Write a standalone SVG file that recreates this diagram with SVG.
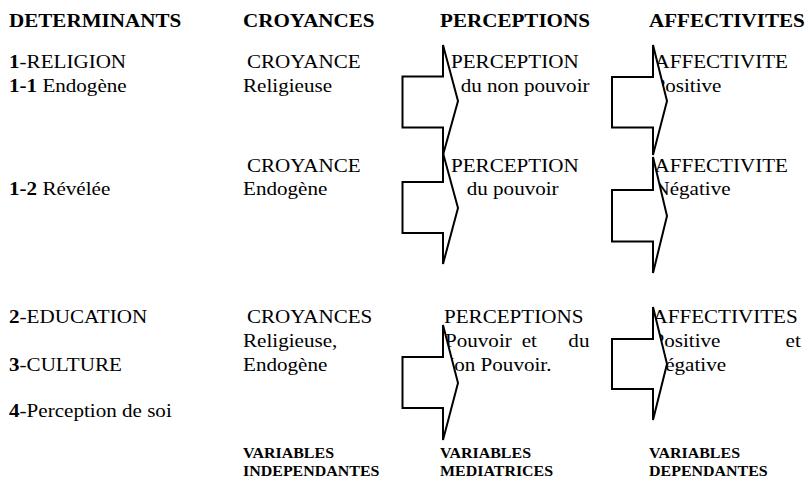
<svg xmlns="http://www.w3.org/2000/svg" width="809" height="479" viewBox="0 0 809 479">
<style>
text{font-family:"Liberation Serif","Times New Roman",serif;font-size:18.5px;fill:#000}
.b{font-weight:bold}
.s{font-size:14px;font-weight:bold}
.arrow{fill:#fff;stroke:#000;stroke-width:2;stroke-linejoin:miter}
</style>
<rect width="809" height="479" fill="#fff"/>
<g id="headers">
<text class="b" transform="translate(9 26.5) scale(1.14 1)">DETERMINANTS</text>
<text class="b" transform="translate(243 26.5) scale(1.14 1)">CROYANCES</text>
<text class="b" transform="translate(440 26.5) scale(1.14 1)">PERCEPTIONS</text>
<text class="b" transform="translate(649 26.5) scale(1.14 1)">AFFECTIVITES</text>
</g>
<g id="determinants">
<text transform="translate(9 68) scale(1.14 1)"><tspan class="b">1</tspan>-RELIGION</text>
<text transform="translate(9 91.5) scale(1.14 1)"><tspan class="b">1-1</tspan> Endogène</text>
<text transform="translate(9 195) scale(1.14 1)"><tspan class="b">1-2</tspan> Révélée</text>
<text transform="translate(9 323) scale(1.14 1)"><tspan class="b">2</tspan>-EDUCATION</text>
<text transform="translate(9 371) scale(1.14 1)"><tspan class="b">3</tspan>-CULTURE</text>
<text transform="translate(9 417) scale(1.14 1)"><tspan class="b">4</tspan>-Perception de soi</text>
</g>
<g id="croyances">
<text transform="translate(247 68) scale(1.14 1)">CROYANCE</text>
<text transform="translate(243 91.5) scale(1.14 1)">Religieuse</text>
<text transform="translate(247 171.5) scale(1.14 1)">CROYANCE</text>
<text transform="translate(243 195) scale(1.14 1)">Endogène</text>
<text transform="translate(247 323) scale(1.14 1)">CROYANCES</text>
<text transform="translate(243 347) scale(1.14 1)">Religieuse,</text>
<text transform="translate(243 371) scale(1.14 1)">Endogène</text>
<text class="s" transform="translate(243 458) scale(1.14 1)">VARIABLES</text>
<text class="s" transform="translate(243 476) scale(1.14 1)">INDEPENDANTES</text>
</g>
<g id="perceptions">
<text transform="translate(451 68) scale(1.14 1)">PERCEPTION</text>
<text transform="translate(460.7 91.5) scale(1.14 1)">du non pouvoir</text>
<text transform="translate(451 171.5) scale(1.14 1)">PERCEPTION</text>
<text transform="translate(466.7 195) scale(1.14 1)">du pouvoir</text>
<text transform="translate(444 323) scale(1.14 1)">PERCEPTIONS</text>
<text transform="translate(445 347) scale(1.14 1)"><tspan x="0">Pouvoir</tspan><tspan x="67.3">et</tspan><tspan x="108.2">du</tspan></text>
<text transform="translate(439 371) scale(1.14 1)">Non Pouvoir.</text>
<text class="s" transform="translate(440 458) scale(1.14 1)">VARIABLES</text>
<text class="s" transform="translate(440 476) scale(1.14 1)">MEDIATRICES</text>
</g>
<g id="affectivites">
<text transform="translate(654.5 68) scale(1.14 1)">AFFECTIVITE</text>
<text transform="translate(653.5 91.5) scale(1.14 1)">Positive</text>
<text transform="translate(654.5 171.5) scale(1.14 1)">AFFECTIVITE</text>
<text transform="translate(654.5 195) scale(1.14 1)">Négative</text>
<text transform="translate(652.5 323) scale(1.14 1)">AFFECTIVITES</text>
<text transform="translate(652.5 347) scale(1.14 1)"><tspan x="0">Positive</tspan><tspan x="116.7">et</tspan></text>
<text transform="translate(650 371) scale(1.14 1)">Négative</text>
<text class="s" transform="translate(649 458) scale(1.14 1)">VARIABLES</text>
<text class="s" transform="translate(649 476) scale(1.14 1)">DEPENDANTES</text>
</g>
<g id="connectors">
<polygon class="arrow" points="443,45 443,76.5 402.5,76.5 402.5,127.5 443,127.5 443,155 458,101"/>
<polygon class="arrow" points="443,153 443,182 402.5,182 402.5,233 443,233 443,264 458,208"/>
<polygon class="arrow" points="443,325 443,357 402.5,357 402.5,408 443,408 443,440 458,383"/>
<polygon class="arrow" points="653,45 653,77 612,77 612,127.5 653,127.5 653,155 667,101"/>
<polygon class="arrow" points="653,157 653,190 612,190 612,241.5 653,241.5 653,273 667,216"/>
<polygon class="arrow" points="653,307 653,339 612,339 612,389 653,389 653,420 667,364"/>
</g>
</svg>
